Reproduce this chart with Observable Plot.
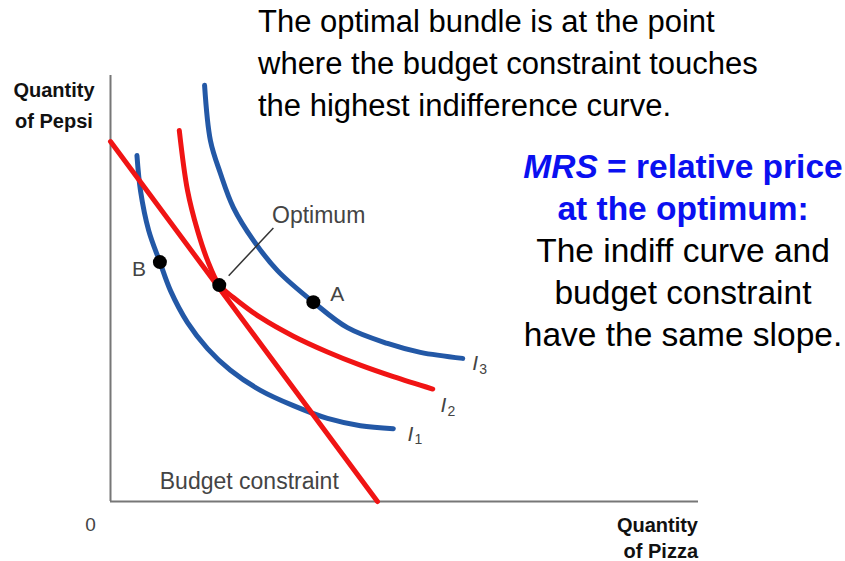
<!DOCTYPE html>
<html><head><meta charset="utf-8">
<script src="https://cdn.jsdelivr.net/npm/d3@7"></script>
<script src="https://cdn.jsdelivr.net/npm/@observablehq/plot@0.6"></script>
<style>
body{margin:0;background:#fff;font-family:"Liberation Sans",Arial,sans-serif;}
#wrap{position:relative;width:845px;height:561px;}
.t{position:absolute;white-space:nowrap;}
</style></head>
<body><div id="wrap"></div>
<script>
// Budget constraint endpoints (quantity of pizza, quantity of pepsi), 0-100 scale
const budgetX = [0, 45.4];
const budgetY = [84.5, 0];
// Indifference curve I1 (blue)
const i1X = [4.5, 5.1, 6.5, 8.4, 10.2, 13.1, 16.5, 20.4, 25.5, 31.1, 36.9, 42.5, 48.1];
const i1Y = [81.2, 73.0, 63.6, 56.2, 49.5, 42.0, 35.9, 30.8, 26.1, 22.5, 19.5, 17.8, 17.1];
// Indifference curve I2 (red)
const i2X = [11.7, 13.1, 14.8, 16.5, 18.5, 20.9, 25.5, 31.1, 36.9, 42.5, 48.1, 54.8];
const i2Y = [87.1, 73.0, 63.6, 56.6, 50.8, 47.9, 43.2, 38.8, 35.1, 32.0, 29.3, 26.4];
// Indifference curve I3 (blue)
const i3X = [16.0, 17.0, 18.7, 20.9, 24.3, 28.4, 34.5, 40.3, 47.1, 52.7, 59.9];
const i3Y = [97.7, 84.7, 77.0, 69.0, 61.3, 54.2, 46.8, 40.8, 37.1, 35.0, 33.6];
// Bundles
const pointNames = ["B", "Optimum", "A"];
const pointX = [8.4, 18.5, 34.5];
const pointY = [56.2, 50.8, 46.8];
// Curve labels
const curveNames = ["1", "2", "3"];
const curveLabelX = [51.0, 56.6, 62.0];
const curveLabelY = [15.9, 22.6, 32.4];

const BLUE = "#2358a6", RED = "#f01414", GRAY = "#444";
const toRows = (xs, ys) => xs.map((x, i) => ({x, y: ys[i]}));
const curves = [
  {id: "I1", color: BLUE, rows: toRows(i1X, i1Y)},
  {id: "I2", color: RED, rows: toRows(i2X, i2Y)},
  {id: "I3", color: BLUE, rows: toRows(i3X, i3Y)}
];
const pts = pointNames.map((n, i) => ({name: n, x: pointX[i], y: pointY[i]}));
const labs = curveNames.map((n, i) => ({n, x: curveLabelX[i], y: curveLabelY[i]}));
const opt = pts[1];

const font = "Liberation Sans, Arial, sans-serif";
const chart = Plot.plot({
  width: 845, height: 561,
  marginLeft: 110, marginRight: 147, marginTop: 75, marginBottom: 60,
  x: {domain: [0, 100], axis: null},
  y: {domain: [0, 100], axis: null},
  style: {fontFamily: font, background: "transparent"},
  marks: [
    Plot.ruleX([0], {stroke: "#777", strokeWidth: 2}),
    Plot.ruleY([0], {stroke: "#777", strokeWidth: 2}),
    ...curves.map(c => Plot.line(c.rows, {x: "x", y: "y", curve: "catmull-rom", stroke: c.color, strokeWidth: 5})),
    Plot.line(toRows(budgetX, budgetY), {x: "x", y: "y", stroke: RED, strokeWidth: 5}),
    Plot.link([opt], {x1: d => d.x + 1.6, y1: d => d.y + 2.2, x2: d => d.x + 9.2, y2: d => d.y + 13.4, stroke: "#333", strokeWidth: 1.5}),
    Plot.dot(pts, {x: "x", y: "y", r: 7, fill: "#000"}),
    Plot.text([opt], {x: d => d.x + 16.9, y: d => d.y + 16.2, text: d => d.name, fontSize: 23, fill: GRAY}),
    Plot.text([pts[0]], {x: "x", y: "y", text: "name", dx: -21, dy: 7, fontSize: 21, fill: GRAY}),
    Plot.text([pts[2]], {x: "x", y: "y", text: "name", dx: 24, dy: -8, fontSize: 21, fill: GRAY}),
    Plot.text(labs, {x: "x", y: "y", text: () => "I", fontSize: 21, fontStyle: "italic", fill: GRAY}),
    Plot.text(labs, {x: "x", y: "y", text: "n", dx: 8, dy: 6, fontSize: 14, fill: GRAY}),
    Plot.text(["Budget constraint"], {x: 23.6, y: 4.7, text: d => d, fontSize: 23, fill: GRAY}),
    Plot.text(["0"], {x: -3.4, y: -5.6, text: d => d, fontSize: 19, fill: GRAY})
  ]
});
const wrap = document.getElementById("wrap");
wrap.appendChild(chart);

function addText(html, css) {
  const d = document.createElement("div");
  d.className = "t";
  d.innerHTML = html;
  Object.assign(d.style, css);
  wrap.appendChild(d);
}
addText("The optimal bundle is at the point<br>where the budget constraint touches<br>the highest indifference curve.",
  {left: "258px", top: "1px", fontSize: "31px", lineHeight: "42px", color: "#000"});
addText("<span style='color:#0a10f0;font-weight:bold'><i>MRS</i> = relative price<br>at the optimum:</span><br>The indiff curve and<br>budget constraint<br>have the same slope.",
  {left: "522px", width: "322px", top: "146px", textAlign: "center", fontSize: "33.5px", lineHeight: "42px", color: "#000"});
addText("Quantity<br>of Pepsi", {left: "4px", width: "100px", top: "75px", textAlign: "center", fontSize: "20px", lineHeight: "31px", fontWeight: "bold", color: "#111"});
addText("Quantity<br>of Pizza", {right: "147px", top: "512px", textAlign: "right", fontSize: "20px", lineHeight: "26px", fontWeight: "bold", color: "#111"});
</script></body></html>
